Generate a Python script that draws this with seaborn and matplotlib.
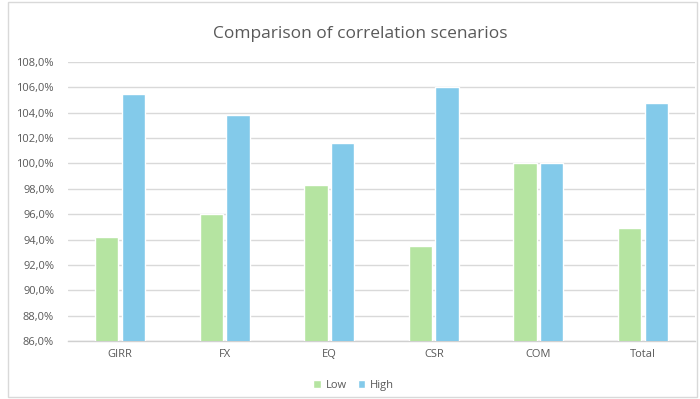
import numpy as np
import pandas as pd
import matplotlib
matplotlib.use("Agg")
import matplotlib.pyplot as plt
import seaborn as sns
from matplotlib.patches import Rectangle, Patch
from matplotlib.ticker import FuncFormatter

categories = ["GIRR", "FX", "EQ", "CSR", "COM", "Total"]
low_values = [94.2, 96.0, 98.3, 93.5, 100.0, 94.9]
high_values = [105.5, 103.8, 101.6, 106.0, 100.0, 104.75]
series_names = ["Low", "High"]
yticks = np.arange(86, 108.1, 2)

df = pd.DataFrame({
    "Category": categories * 2,
    "Scenario": [series_names[0]] * len(categories) + [series_names[1]] * len(categories),
    "Value": low_values + high_values,
})

sns.set_theme(style="white")
plt.rcParams['font.family'] = ['Open Sans', 'DejaVu Sans']

GREEN = "#B5E4A1"
BLUE = "#83CAEA"
TEXT = "#595959"

fig = plt.figure(figsize=(7, 3.99), dpi=100)
ax = fig.add_axes([0.097, 0.1454, 0.896, 0.6992])

sns.barplot(data=df, x="Category", y="Value", hue="Scenario",
            palette={"Low": GREEN, "High": BLUE}, width=0.51, gap=0.13,
            saturation=1, ax=ax, legend=False, zorder=3)

ax.set_ylim(86, 108)
ax.set_yticks(yticks)
ax.yaxis.set_major_formatter(FuncFormatter(lambda v, p: f"{v:.1f}%".replace(".", ",")))
ax.grid(axis="y", color="#D9D9D9", linewidth=1.0, zorder=0)
ax.set_axisbelow(True)
for side in ["top", "right", "left"]:
    ax.spines[side].set_visible(False)
ax.spines["bottom"].set_color("#D0D0D0")
ax.spines["bottom"].set_linewidth(1.0)
ax.tick_params(axis="both", length=0, labelsize=8, labelcolor=TEXT)
ax.tick_params(axis="y", pad=10)
ax.tick_params(axis="x", pad=6)
ax.set_xlabel("")
ax.set_ylabel("")

fig.text(0.515, 0.915, "Comparison of correlation scenarios", ha="center", va="center",
         fontsize=12.5, color=TEXT)

handles = [Patch(facecolor=GREEN, label="Low"), Patch(facecolor=BLUE, label="High")]
fig.legend(handles=handles, loc="center", bbox_to_anchor=(0.505, 0.035), ncol=2,
           frameon=False, fontsize=8, handlelength=0.7, handleheight=0.7,
           handletextpad=0.4, columnspacing=1.0, labelcolor=TEXT)

fig.patches.append(Rectangle((0.011, 0.006), 0.985, 0.99, transform=fig.transFigure,
                             fill=False, edgecolor="#D9D9D9", linewidth=1.0))

fig.savefig("out.png", dpi=100)
